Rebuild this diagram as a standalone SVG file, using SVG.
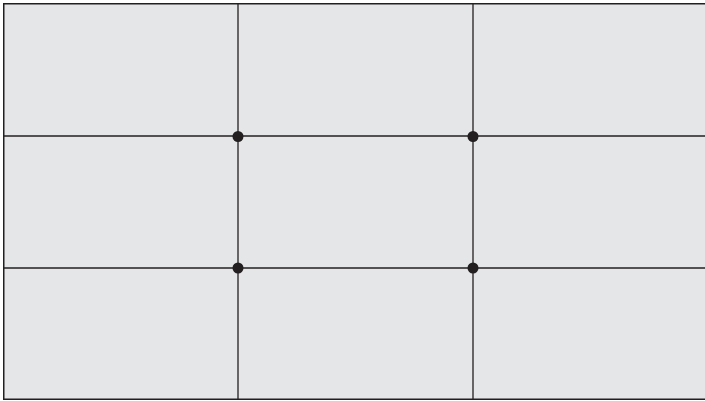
<svg xmlns="http://www.w3.org/2000/svg" width="705" height="401" viewBox="0 0 705 401">
<style>
.frame{fill:#e5e6e8;stroke:#231f20;stroke-width:1.5}
.grid line{stroke:#231f20;stroke-width:1.3}
.dot{fill:#231f20}
</style>
<rect x="0" y="0" width="705" height="401" fill="#ffffff"/>
<rect class="frame" x="3.75" y="3.75" width="704" height="395.5"/>
<g id="connectors" class="grid">
<line x1="238" y1="3.75" x2="238" y2="399.25"/>
<line x1="473" y1="3.75" x2="473" y2="399.25"/>
<line x1="3.75" y1="136" x2="705" y2="136"/>
<line x1="3.75" y1="268" x2="705" y2="268"/>
</g>
<g id="p1"><circle class="dot" cx="238" cy="136.5" r="5.5"/></g>
<g id="p2"><circle class="dot" cx="473" cy="136.5" r="5.5"/></g>
<g id="p3"><circle class="dot" cx="238" cy="268" r="5.5"/></g>
<g id="p4"><circle class="dot" cx="473" cy="268" r="5.5"/></g>
</svg>
